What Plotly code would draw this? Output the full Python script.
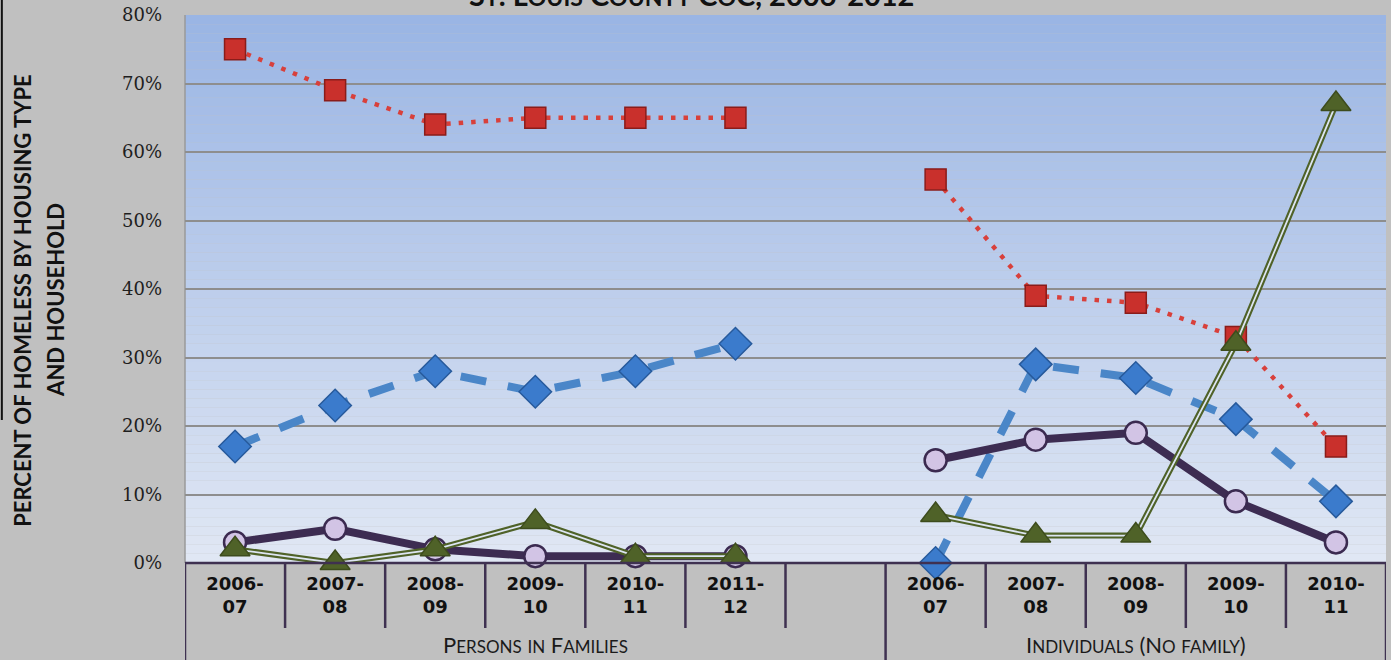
import plotly.graph_objects as go

# ---------------- data ----------------
family_periods = ["2006-07", "2007-08", "2008-09", "2009-10", "2010-11", "2011-12"]
individual_periods = ["2006-07", "2007-08", "2008-09", "2009-10", "2010-11"]
group_names = ["Persons in Families", "Individuals (No family)"]

# percent values per series (families, then individuals)
red_families = [75, 69, 64, 65, 65, 65]
red_individuals = [56, 39, 38, 33, 17]
blue_families = [17, 23, 28, 25, 28, 32]
blue_individuals = [0, 29, 27, 21, 9]
purple_families = [3, 5, 2, 1, 1, 1]
purple_individuals = [15, 18, 19, 9, 3]
green_families = [2, 0, 2, 6, 1, 1]
green_individuals = [7, 4, 4, 32, 67]

y_ticks = [0, 10, 20, 30, 40, 50, 60, 70, 80]
title_text = "St. Louis County CoC, 2006-2012"
y_title_lines = ["PERCENT OF HOMELESS BY HOUSING TYPE", "AND HOUSEHOLD"]

# ---------------- helpers ----------------
# category slots: families, one empty slot, individuals
categories = family_periods + [""] + individual_periods
x_idx = list(range(len(categories)))
tick_text = [c.replace("-", "-<br>") if c else "" for c in categories]


def combine(fam, ind):
    return list(fam) + [None] + list(ind)


def small_caps(text, big, small):
    out = []
    for ch in text:
        if ch.isalpha() and ch.islower():
            out.append('<span style="font-size:%dpx">%s</span>' % (small, ch.upper()))
        else:
            out.append(ch)
    return "".join(out)


BG = "#c0c0c0"
TABLE_LINE = "#3f3151"

fig = go.Figure()

series = [
    dict(y=combine(red_families, red_individuals), lcolor="#d8403b", lwidth=4.5, dash="4.5px,8px",
         symbol="square", msize=21, mcolor="#c9302c", mline="#8a1c1a"),
    dict(y=combine(blue_families, blue_individuals), lcolor="#4a86c8", lwidth=8, dash="26px,22px",
         symbol="diamond", msize=25, mcolor="#3b7bcc", mline="#275a9c"),
    dict(y=combine(purple_families, purple_individuals), lcolor="#3d2c52", lwidth=8, dash="solid",
         symbol="circle", msize=22, mcolor="#d2c4e5", mline="#3b2a50"),
    dict(y=combine(green_families, green_individuals), lcolor="#4f6228", lwidth=6, dash="solid",
         symbol="triangle-up", msize=26, mcolor="#4f6228", mline="#3d4c1d", double=True),
]

for s in series:
    fig.add_trace(go.Scatter(
        x=x_idx, y=s["y"], mode="lines",
        line=dict(color=s["lcolor"], width=s["lwidth"], dash=s["dash"]),
        hoverinfo="skip", showlegend=False, cliponaxis=False))
    if s.get("double"):
        fig.add_trace(go.Scatter(
            x=x_idx, y=s["y"], mode="lines",
            line=dict(color="#dde5f2", width=1.8),
            hoverinfo="skip", showlegend=False, cliponaxis=False))
    fig.add_trace(go.Scatter(
        x=x_idx, y=s["y"], mode="markers",
        marker=dict(symbol=s["symbol"], size=s["msize"], color=s["mcolor"],
                    line=dict(color=s["mline"], width=1.5 if s["symbol"] != "circle" else 2.5)),
        showlegend=False, cliponaxis=False))

# ---------------- background gradient of plot area ----------------
shapes = []
n_bands = 60
top = (154, 181, 228)
bottom = (224, 231, 244)
for i in range(n_bands):
    t = i / (n_bands - 1)
    c = tuple(round(top[k] + (bottom[k] - top[k]) * t) for k in range(3))
    shapes.append(dict(type="rect", xref="paper", yref="paper",
                       x0=0, x1=1, y0=1 - (i + 1) / n_bands, y1=1 - i / n_bands,
                       fillcolor="rgb(%d,%d,%d)" % c, line=dict(width=0), layer="below"))

# plot-area left border
shapes.append(dict(type="line", xref="paper", yref="paper", x0=0, x1=0, y0=0, y1=1,
                   line=dict(color="#9a9a9a", width=1.5), layer="below"))

# ---------------- category table below the axis ----------------
n = len(categories)
row1_bottom = -65 / 548
row2_bottom = -100 / 548
shapes.append(dict(type="line", xref="x", yref="paper", x0=-0.5, x1=n - 0.5, y0=0, y1=0,
                   line=dict(color=TABLE_LINE, width=2.5)))
group_edges = [0, len(family_periods) + 1, n]
for k in range(n + 1):
    full = k in group_edges
    shapes.append(dict(type="line", xref="x", yref="paper", x0=k - 0.5, x1=k - 0.5,
                       y0=0, y1=row2_bottom if full else row1_bottom,
                       line=dict(color=TABLE_LINE, width=2.5)))

# black frame fragment on left edge
shapes.append(dict(type="line", xref="paper", yref="paper",
                   x0=-183 / 1200, x1=-183 / 1200, y0=(563 - 420) / 548, y1=1.05,
                   line=dict(color="#111111", width=2)))

annotations = []
group_centers = [(group_edges[0] + group_edges[1]) / 2 - 0.5, (group_edges[1] + group_edges[2]) / 2 - 0.5]
for name, cx in zip(group_names, group_centers):
    annotations.append(dict(x=cx, y=-81 / 548, xref="x", yref="paper",
                            text=small_caps(name, 22, 17), showarrow=False,
                            font=dict(family="Lato", size=22, color="#1a1a1a"),
                            xanchor="center", yanchor="middle"))

# y-axis title (two rotated lines)
annotations.append(dict(x=-163 / 1200, y=(563 - 300) / 548, xref="paper", yref="paper",
                        text=y_title_lines[0], textangle=-90, showarrow=False,
                        font=dict(family="Lato", size=22, color="#111111", weight="bold"),
                        xanchor="center", yanchor="middle"))
annotations.append(dict(x=-130 / 1200, y=(563 - 300) / 548, xref="paper", yref="paper",
                        text=y_title_lines[1], textangle=-90, showarrow=False,
                        font=dict(family="Lato", size=22, color="#111111", weight="bold"),
                        xanchor="center", yanchor="middle"))

# title, cut off at the top of the picture (as in the reference)
annotations.append(dict(x=(691 - 185) / 1200, y=(563 - 14) / 548, xref="paper", yref="paper",
                        text="<b>" + small_caps(title_text, 29, 23) + "</b>", showarrow=False,
                        font=dict(family="Lato", size=29, color="#111111"),
                        xanchor="center", yanchor="bottom"))

fig.update_layout(
    width=1391, height=660,
    margin=dict(l=185, r=5, t=15, b=97),
    paper_bgcolor=BG, plot_bgcolor="rgba(0,0,0,0)",
    showlegend=False,
    shapes=shapes, annotations=annotations,
    xaxis=dict(range=[-0.5, n - 0.5], tickmode="array", tickvals=x_idx, ticktext=tick_text,
               showgrid=False, zeroline=False, showline=False, ticks="", ticklabelstandoff=8,
               tickfont=dict(family="DejaVu Sans", size=18, color="#111111", weight="bold"),
               fixedrange=True),
    yaxis=dict(range=[0, 80], tickmode="array", tickvals=y_ticks,
               ticktext=["%d%%" % v for v in y_ticks],
               showgrid=True, gridcolor="#8e8e8e", gridwidth=1.5, zeroline=False,
               showline=False, ticks="", ticklabelstandoff=22,
               tickfont=dict(family="DejaVu Serif", size=18, color="#1e1e1e"),
               fixedrange=True),
)

fig.write_html("out.html", config={"displayModeBar": False},
               post_script="document.body.style.margin='0';document.body.style.overflow='hidden';")
